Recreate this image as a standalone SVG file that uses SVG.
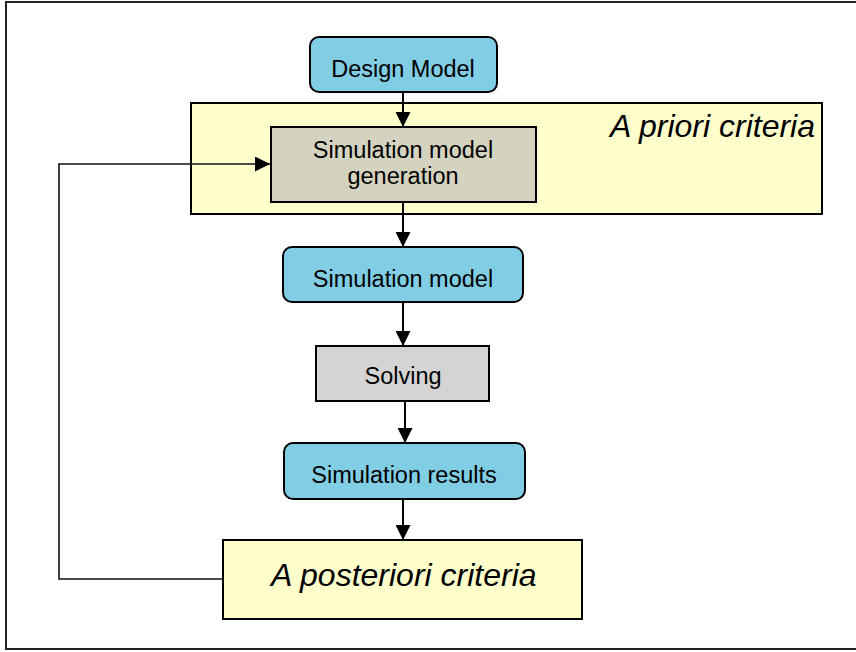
<svg xmlns="http://www.w3.org/2000/svg" width="856" height="652" viewBox="0 0 856 652">
<defs>
<marker id="ah" markerUnits="userSpaceOnUse" markerWidth="15" markerHeight="15" refX="15" refY="7.5" orient="auto">
<path d="M0,0 L15,7.5 L0,15 z" fill="#000"/>
</marker>
<style>
.t{font-family:"Liberation Sans",Arial,sans-serif;font-size:23.5px;fill:#000;text-anchor:middle}
.it{font-family:"Liberation Sans",Arial,sans-serif;font-style:italic;fill:#000}
.blue{fill:#80CDE4;stroke:#000;stroke-width:2}
.crit{fill:#FFFFCC;stroke:#000;stroke-width:2}
.conn{stroke:#000;stroke-width:2;fill:none}
</style>
</defs>
<rect x="0" y="0" width="856" height="652" fill="#fff"/>
<rect x="6" y="2" width="860" height="647" fill="none" stroke="#222" stroke-width="2"/>
<g id="a-priori">
<rect class="crit" x="191" y="103" width="631" height="111"/>
<text class="it" x="815" y="137" font-size="32" text-anchor="end">A priori criteria</text>
</g>
<g id="a-posteriori">
<rect class="crit" x="223" y="540" width="359" height="79"/>
<text class="it" x="271" y="586" font-size="32">A posteriori criteria</text>
</g>
<g id="design-model">
<rect class="blue" x="310" y="37" width="187" height="55" rx="9"/>
<text class="t" x="403" y="77">Design Model</text>
</g>
<g id="sim-model-gen">
<rect x="271" y="127" width="265" height="75" fill="#D4D3BF" stroke="#000" stroke-width="2"/>
<text class="t" x="403" y="158">Simulation model</text>
<text class="t" x="403" y="184">generation</text>
</g>
<g id="sim-model">
<rect class="blue" x="283" y="247" width="240" height="55" rx="9"/>
<text class="t" x="403" y="287">Simulation model</text>
</g>
<g id="solving">
<rect x="316" y="346" width="173" height="55" fill="#D4D4D4" stroke="#000" stroke-width="2"/>
<text class="t" x="403" y="384">Solving</text>
</g>
<g id="sim-results">
<rect class="blue" x="284" y="443" width="241" height="56" rx="9"/>
<text class="t" x="404" y="483">Simulation results</text>
</g>
<g id="connectors">
<line class="conn" x1="403" y1="92" x2="403" y2="127" marker-end="url(#ah)"/>
<line class="conn" x1="403" y1="202" x2="403" y2="247" marker-end="url(#ah)"/>
<line class="conn" x1="403" y1="302" x2="403" y2="346" marker-end="url(#ah)"/>
<line class="conn" x1="405" y1="401" x2="405" y2="443" marker-end="url(#ah)"/>
<line class="conn" x1="403" y1="499" x2="403" y2="540" marker-end="url(#ah)"/>
<path d="M223,579 H59 V164 H270" fill="none" stroke="#111" stroke-width="1.6" marker-end="url(#ah)"/>
</g>
</svg>
